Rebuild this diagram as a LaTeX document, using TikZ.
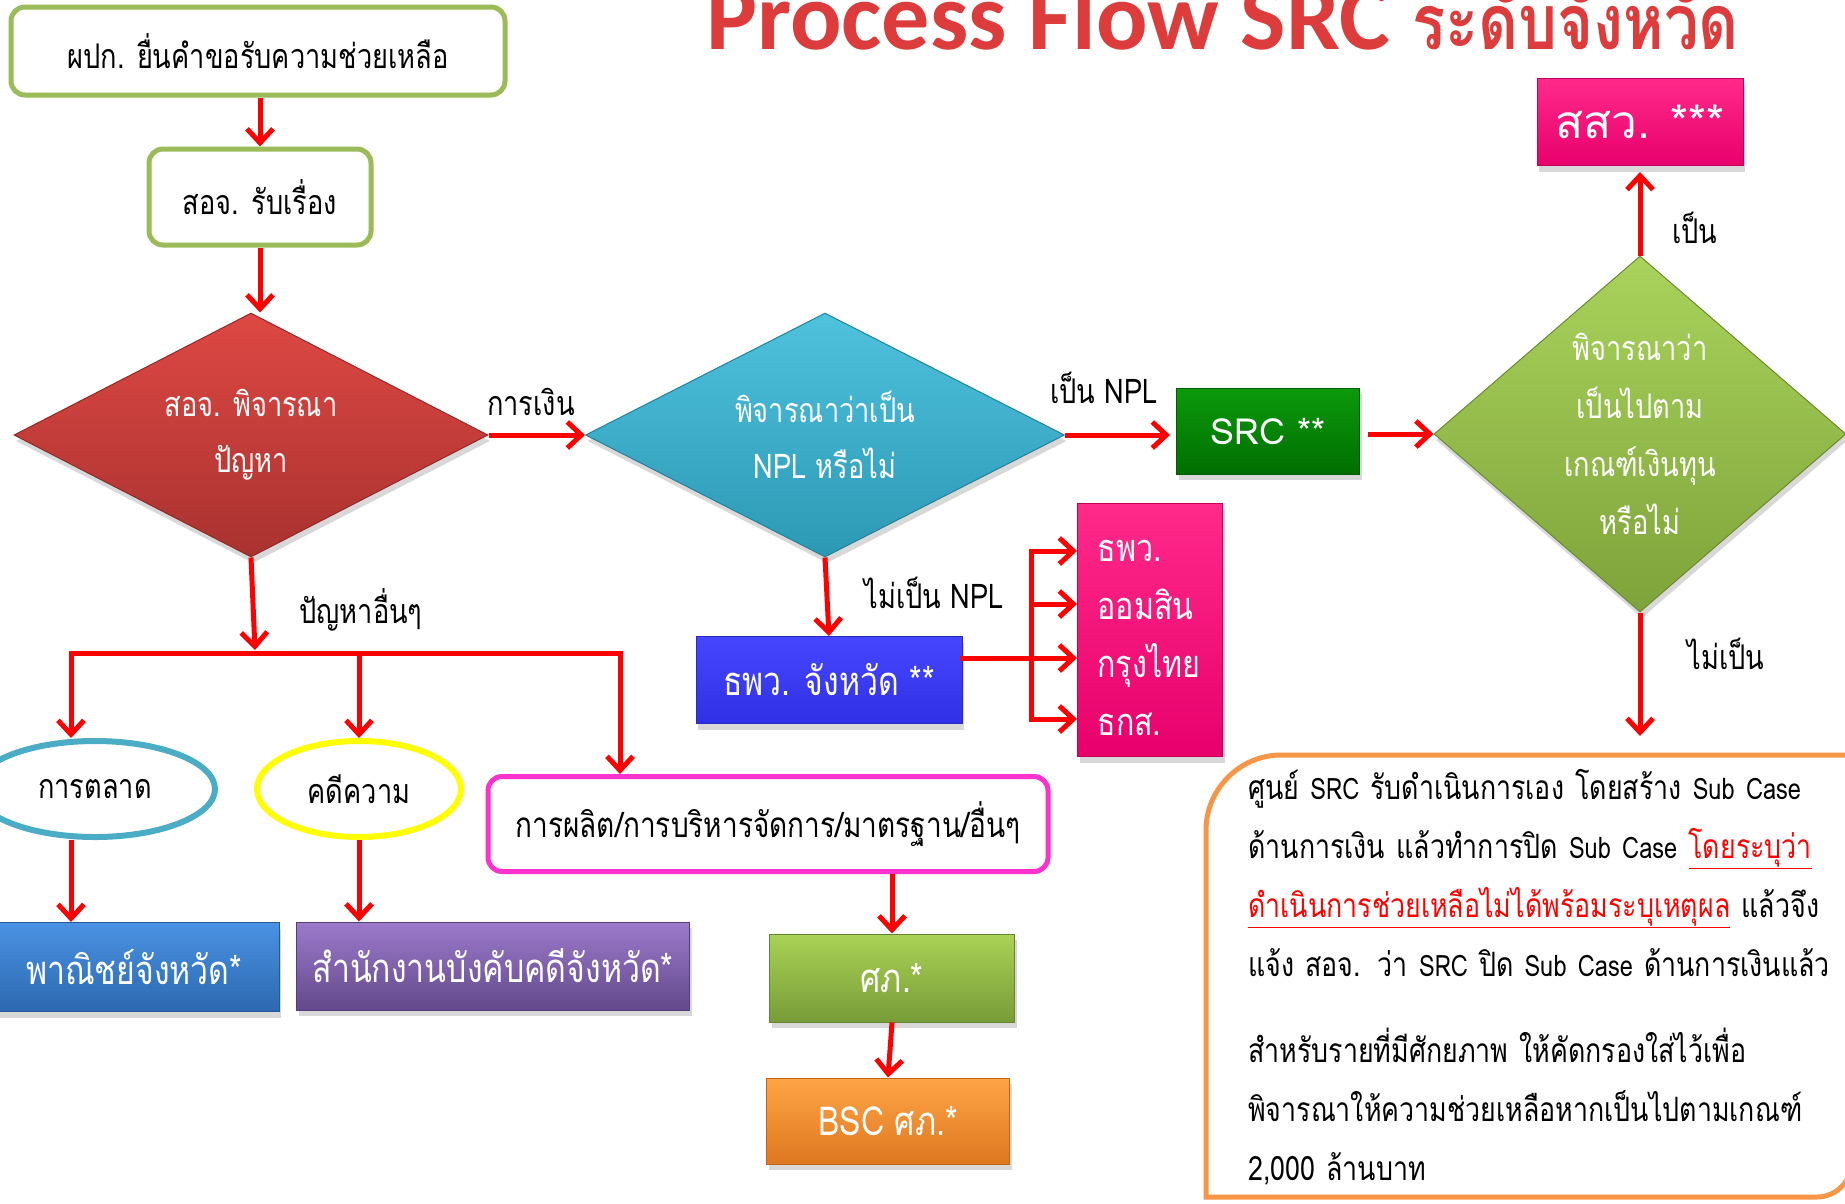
\documentclass[tikz,border=0pt]{standalone}
\usepackage{fontspec}
\usetikzlibrary{shapes.geometric,arrows.meta,shadows,calc}
\newfontfamily\thN[Script=Thai,FakeStretch=0.8]{Loma}
\newfontfamily\thW[Script=Thai]{Loma}
\newfontfamily\latB{Carlito}
\newcommand{\lw}[1]{{\fontsize{29.5}{59}\selectfont #1}}
\definecolor{arrred}{HTML}{FF0000}
\definecolor{grn}{HTML}{9BBB59}
\definecolor{ttl}{HTML}{DC3C3C}
\definecolor{tealc}{HTML}{4BACC6}
\definecolor{yel}{HTML}{FFFF00}
\definecolor{mag}{HTML}{FF33CC}
\definecolor{orng}{HTML}{F79646}
\definecolor{redT}{HTML}{DE4843}\definecolor{redB}{HTML}{A93230}
\definecolor{cyaT}{HTML}{4FC2DE}\definecolor{cyaB}{HTML}{2C98B4}
\definecolor{srcT}{HTML}{0C9A0C}\definecolor{srcB}{HTML}{006E00}
\definecolor{limT}{HTML}{A9D35C}\definecolor{limB}{HTML}{7EA33A}
\definecolor{pnkT}{HTML}{FF2A8A}\definecolor{pnkB}{HTML}{E8006C}
\definecolor{bluT}{HTML}{4646FF}\definecolor{bluB}{HTML}{3030E6}
\definecolor{skyT}{HTML}{4A92E2}\definecolor{skyB}{HTML}{2C68B0}
\definecolor{purT}{HTML}{9C7ACC}\definecolor{purB}{HTML}{62498A}
\definecolor{olvT}{HTML}{A9D255}\definecolor{olvB}{HTML}{789C38}
\definecolor{orgT}{HTML}{FFA446}\definecolor{orgB}{HTML}{DE7820}
\begin{document}
\begin{tikzpicture}[x=1pt,y=-1pt,
  arr/.style={draw=arrred,line width=5pt,-{Straight Barb[length=14pt,width=26pt]}},
  ln/.style={draw=arrred,line width=5pt,line cap=rect},
  fBlack/.style={font=\thN\fontsize{34}{40}\selectfont},
  lab/.style={inner sep=0pt,fBlack,text=black},
  wbox/.style={rectangle,rounded corners=14pt,line width=5pt,fill=white,inner sep=0pt,fBlack},
  ell/.style={ellipse,line width=6pt,fill=white,inner sep=0pt,fBlack},
  dia/.style n args={2}{diamond,inner sep=0pt,align=center,text=white,top color=#1,bottom color=#2,draw=#2!85!black,line width=1pt,
     font=\thN\fontsize{34}{56}\selectfont,drop shadow={opacity=0.3,shadow xshift=2pt,shadow yshift=-6pt}},
  box3d/.style n args={2}{rectangle,inner sep=0pt,text=white,top color=#1,bottom color=#2,draw=#2!85!black,line width=1pt,
     font=\thN\fontsize{40}{58}\selectfont,drop shadow={opacity=0.3,shadow xshift=2pt,shadow yshift=-6pt}}
]
\useasboundingbox (0,0) rectangle (1845,1203);
\clip (0,0) rectangle (1845,1203);
\fill[white] (0,0) rectangle (1845,1203);

% title
\node[anchor=base west,inner sep=0pt,text=ttl] (title) at (706,49)
  {\latB\bfseries\fontsize{96}{96}\selectfont Process Flow SRC \thN\bfseries\fontsize{77}{77}\selectfont ระดับจังหวัด};

% left column
\node[wbox,draw=grn,minimum width=494pt,minimum height=88pt] (b1) at (258,51) {ผปก. ยื่นคำขอรับความช่วยเหลือ};
\node[wbox,draw=grn,minimum width=222pt,minimum height=96pt] (b2) at (260,197) {สอจ. รับเรื่อง};
\node[dia={redT}{redB},minimum width=474pt,minimum height=244pt,aspect=2] (d1) at (251,435) {สอจ. พิจารณา\\ปัญหา};
\node[dia={cyaT}{cyaB},minimum width=479pt,minimum height=244pt,aspect=2] (d2) at (825,435) {พิจารณาว่าเป็น\\NPL หรือไม่};
\node[box3d={srcT}{srcB},minimum width=183pt,minimum height=86pt,font=\thW\fontsize{36}{44}\selectfont] (src) at (1268,431) {SRC **};
\node[dia={limT}{limB},minimum width=412pt,minimum height=356pt,aspect=1.15,font=\thN\fontsize{34}{58}\selectfont] (d3) at (1640,434) {พิจารณาว่า\\เป็นไปตาม\\เกณฑ์เงินทุน\\หรือไม่};
\node[box3d={pnkT}{pnkB},minimum width=206pt,minimum height=87pt,font=\thW\fontsize{46}{50}\selectfont] (ssw) at (1640,122) {สสว. ***};
\node[box3d={bluT}{bluB},minimum width=266pt,minimum height=87pt] (tpw) at (829,680) {ธพว. จังหวัด **};
\node[box3d={pnkT}{pnkB},minimum width=145pt,minimum height=253pt,text width=105pt,align=left,font=\thN\fontsize{38}{58}\selectfont] (bank) at (1150,630) {\rule{0pt}{38pt}ธพว.\\ออมสิน\\กรุงไทย\\ธกส.};

\node[ell,draw=tealc,minimum width=240pt,minimum height=96pt] (e1) at (95,789) {การตลาด};
\node[ell,draw=yel,minimum width=204pt,minimum height=96pt] (e2) at (359,789) {คดีความ};
\node[wbox,draw=mag,minimum width=560pt,minimum height=95pt,font=\thN\fontsize{35}{40}\selectfont] (b3) at (768,824) {การผลิต/การบริหารจัดการ/มาตรฐาน/อื่นๆ};

\node[box3d={skyT}{skyB},minimum width=290pt,minimum height=89pt] (pn) at (134,967) {พาณิชย์จังหวัด*};
\node[box3d={purT}{purB},minimum width=393pt,minimum height=88pt] (sk) at (493,966) {สำนักงานบังคับคดีจังหวัด*};
\node[box3d={olvT}{olvB},minimum width=245pt,minimum height=88pt] (sp) at (892,978) {ศภ.*};
\node[box3d={orgT}{orgB},minimum width=243pt,minimum height=86pt] (bsc) at (888,1121) {BSC ศภ.*};

% labels
\node[lab] (lfin) at (531,402) {การเงิน};
\node[lab] (loth) at (361,610) {ปัญหาอื่นๆ};
\node[lab] (lnpl) at (1104,388) {เป็น NPL};
\node[lab] (lnnpl) at (934,593) {ไม่เป็น NPL};
\node[lab] (lyes) at (1695,228) {เป็น};
\node[lab] (lno) at (1726,654) {ไม่เป็น};

% note box
\draw[draw=orng,line width=5pt] (1206,1197) -- (1206,830) .. controls (1206,789) and (1240,755) .. (1281,755)
  -- (1852,755) -- (1852,1162) .. controls (1852,1181) and (1836,1197) .. (1817,1197) -- cycle;
\node[anchor=base west,inner sep=0pt,align=left,text width=600pt,font=\thN\fontsize{33.5}{59}\selectfont] (note) at (1248,799)
  {ศูนย์ \lw{SRC} รับดำเนินการเอง โดยสร้าง \lw{Sub Case}\\
   ด้านการเงิน แล้วทำการปิด \lw{Sub Case} {\color{arrred}\underline{โดยระบุว่า}}\\
   {\color{arrred}\underline{ดำเนินการช่วยเหลือไม่ได้พร้อมระบุเหตุผล}} แล้วจึง\\
   แจ้ง สอจ. ว่า \lw{SRC} ปิด \lw{Sub Case} ด้านการเงินแล้ว\\[27pt]
   สำหรับรายที่มีศักยภาพ ให้คัดกรองใส่ไว้เพื่อ\\
   พิจารณาให้ความช่วยเหลือหากเป็นไปตามเกณฑ์\\
   2,000 ล้านบาท};

% connectors
\draw[arr] (b2.north |- b1.south) -- (b2.north);
\draw[arr] (b2.south) -- (b2.south |- d1.north);
\draw[arr] (d1.east) -- (d2.west);
\coordinate (jm) at (255,653);
\coordinate (j1) at (71,653);
\coordinate (j2) at (359,653);
\coordinate (j3) at (620,653);
\draw[arr] (d1.south) -- ($(jm)+(0,-3)$);
\draw[ln] (j1) -- (j3);
\draw[arr] (j1) -- (j1 |- e1.north);
\draw[arr] (j2) -- (e2.north);
\draw[arr] (j3) -- (j3 |- b3.north);
\draw[arr] (j1 |- e1.south) -- (j1 |- pn.north);
\draw[arr] (e2.south) -- (e2.south |- sk.north);
\draw[arr] (sp.north |- b3.south) -- (sp.north);
\draw[arr] (sp.south) -- (bsc.north);

\draw[arr] (d2.south) -- (tpw.north);
\draw[arr,shorten >=6pt] (d2.east) -- (d2.east -| src.west);
\coordinate (v1) at (1031,551);
\coordinate (v2) at (1031,604);
\coordinate (v3) at (1031,658);
\coordinate (v4) at (1031,719);
\draw[ln] (tpw.east |- v3) -- (v3);
\draw[ln] (v1) -- (v4);
\draw[arr] (v1) -- (v1 -| bank.west);
\draw[arr] (v2) -- (v2 -| bank.west);
\draw[arr] (v3) -- (v3 -| bank.west);
\draw[arr] (v4) -- (v4 -| bank.west);

\draw[arr,shorten <=8pt] (src.east |- d3.west) -- (d3.west);
\draw[arr,shorten >=6pt] (d3.north) -- (ssw.south);
\coordinate (dn) at (1640,736);
\draw[arr] (d3.south) -- (dn);
\end{tikzpicture}
\end{document}
